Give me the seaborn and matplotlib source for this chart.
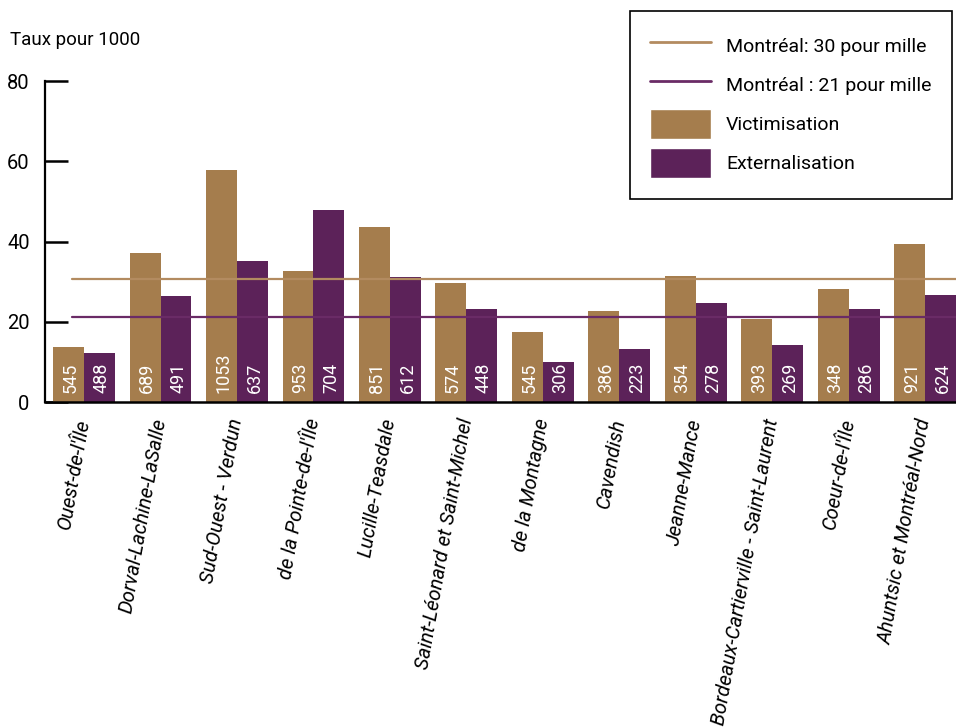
import matplotlib
matplotlib.use("Agg")
import matplotlib.pyplot as plt
import seaborn as sns
import pandas as pd
from matplotlib.lines import Line2D
from matplotlib.patches import Patch

# données (taux pour 1000 et nombre de cas)
territoires = ["Ouest-de-l'Île", "Dorval-Lachine-LaSalle", "Sud-Ouest - Verdun",
               "de la Pointe-de-l'Île", "Lucille-Teasdale", "Saint-Léonard et Saint-Michel",
               "de la Montagne", "Cavendish", "Jeanne-Mance",
               "Bordeaux-Cartierville - Saint-Laurent", "Coeur-de-l'Île",
               "Ahuntsic et Montréal-Nord"]
victimisation = [13.6, 37.1, 57.9, 32.7, 43.7, 29.7, 17.4, 22.7, 31.4, 20.7, 28.2, 39.4]
externalisation = [12.2, 26.4, 35.2, 47.9, 31.3, 23.2, 9.9, 13.2, 24.7, 14.2, 23.2, 26.7]
n_victimisation = [545, 689, 1053, 953, 851, 574, 545, 386, 354, 393, 348, 921]
n_externalisation = [488, 491, 637, 704, 612, 448, 306, 223, 278, 269, 286, 624]
mtl_victimisation = 30.8
mtl_externalisation = 21.2
legende_lignes = ["Montréal: 30 pour mille", "Montréal : 21 pour mille"]
types = ["Victimisation", "Externalisation"]

BRUN = "#A57D4D"
MAUVE = "#5C2259"
BRUN_LIGNE = "#B38B60"
MAUVE_LIGNE = "#6A2B66"

sns.set_theme(style="white")
plt.rcParams['font.family'] = ['Roboto', 'DejaVu Sans']
plt.rcParams['text.color'] = 'black'
plt.rcParams['xtick.color'] = 'black'
plt.rcParams['ytick.color'] = 'black'

df = pd.DataFrame({
    'territoire': territoires * 2,
    'taux': victimisation + externalisation,
    'type': [types[0]] * len(territoires) + [types[1]] * len(territoires),
})

fig = plt.figure(figsize=(9.56, 7.28), dpi=100)
ax = fig.add_axes([45 / 956, (728 - 402) / 728, 1 - 45 / 956, (402 - 81.3) / 728])

sns.barplot(data=df, x='territoire', y='taux', hue='type', order=territoires,
            hue_order=types, palette=[BRUN, MAUVE], width=0.81, saturation=1,
            errorbar=None, linewidth=0, legend=False, ax=ax)

# nombre de cas écrit en blanc au pied de chaque barre
for cont, nombres in zip(ax.containers, [n_victimisation, n_externalisation]):
    for bar, n in zip(cont, nombres):
        ax.annotate(str(n), (bar.get_x() + bar.get_width() / 2, 0),
                    xytext=(1.5, 6.5), textcoords='offset points',
                    rotation=90, ha='center', va='bottom', color='white', fontsize=13)

ax.axhline(mtl_victimisation, xmin=0.03, color=BRUN_LIGNE, lw=1.6, zorder=5)
ax.axhline(mtl_externalisation, xmin=0.03, color=MAUVE_LIGNE, lw=1.6, zorder=5)

ax.set_xlim(-0.51, 11.4)
ax.set_ylim(0, 80)
ax.set_yticks([0, 20, 40, 60, 80])
ax.set_xlabel('')
ax.set_ylabel('')
ax.set_xticks(range(len(territoires)))
ax.set_xticklabels(territoires, rotation=80, ha='right', va='center',
                   rotation_mode='anchor', fontstyle='italic', fontsize=14.5)
ax.tick_params(axis='x', length=0, pad=12)
ax.tick_params(axis='y', direction='in', length=16.5, width=1.8, pad=11,
               labelsize=14.5, color='black', left=True)
for s in ['top', 'right']:
    ax.spines[s].set_visible(False)
ax.spines['left'].set_linewidth(1.6)
ax.spines['bottom'].set_linewidth(1.8)
ax.spines['left'].set_color('black')
ax.spines['bottom'].set_color('black')

fig.text(10 / 956, 1 - 31 / 728, "Taux pour 1000", fontsize=13.5, va='top', ha='left')

poignees = [Line2D([], [], color=BRUN_LIGNE, lw=2),
            Line2D([], [], color=MAUVE_LIGNE, lw=2),
            Patch(facecolor=BRUN), Patch(facecolor=MAUVE)]
leg = ax.legend(poignees, legende_lignes + types, loc='upper right',
                bbox_to_anchor=(952 / 956, 1 - 10.7 / 728), bbox_transform=fig.transFigure,
                fontsize=14, handlelength=3.1, handleheight=2.0, handletextpad=0.8,
                labelspacing=0.46, borderpad=1.05, borderaxespad=0, fancybox=False,
                framealpha=1, edgecolor='black')
leg.get_frame().set_linewidth(1.2)

plt.savefig('out.png', dpi=100)
